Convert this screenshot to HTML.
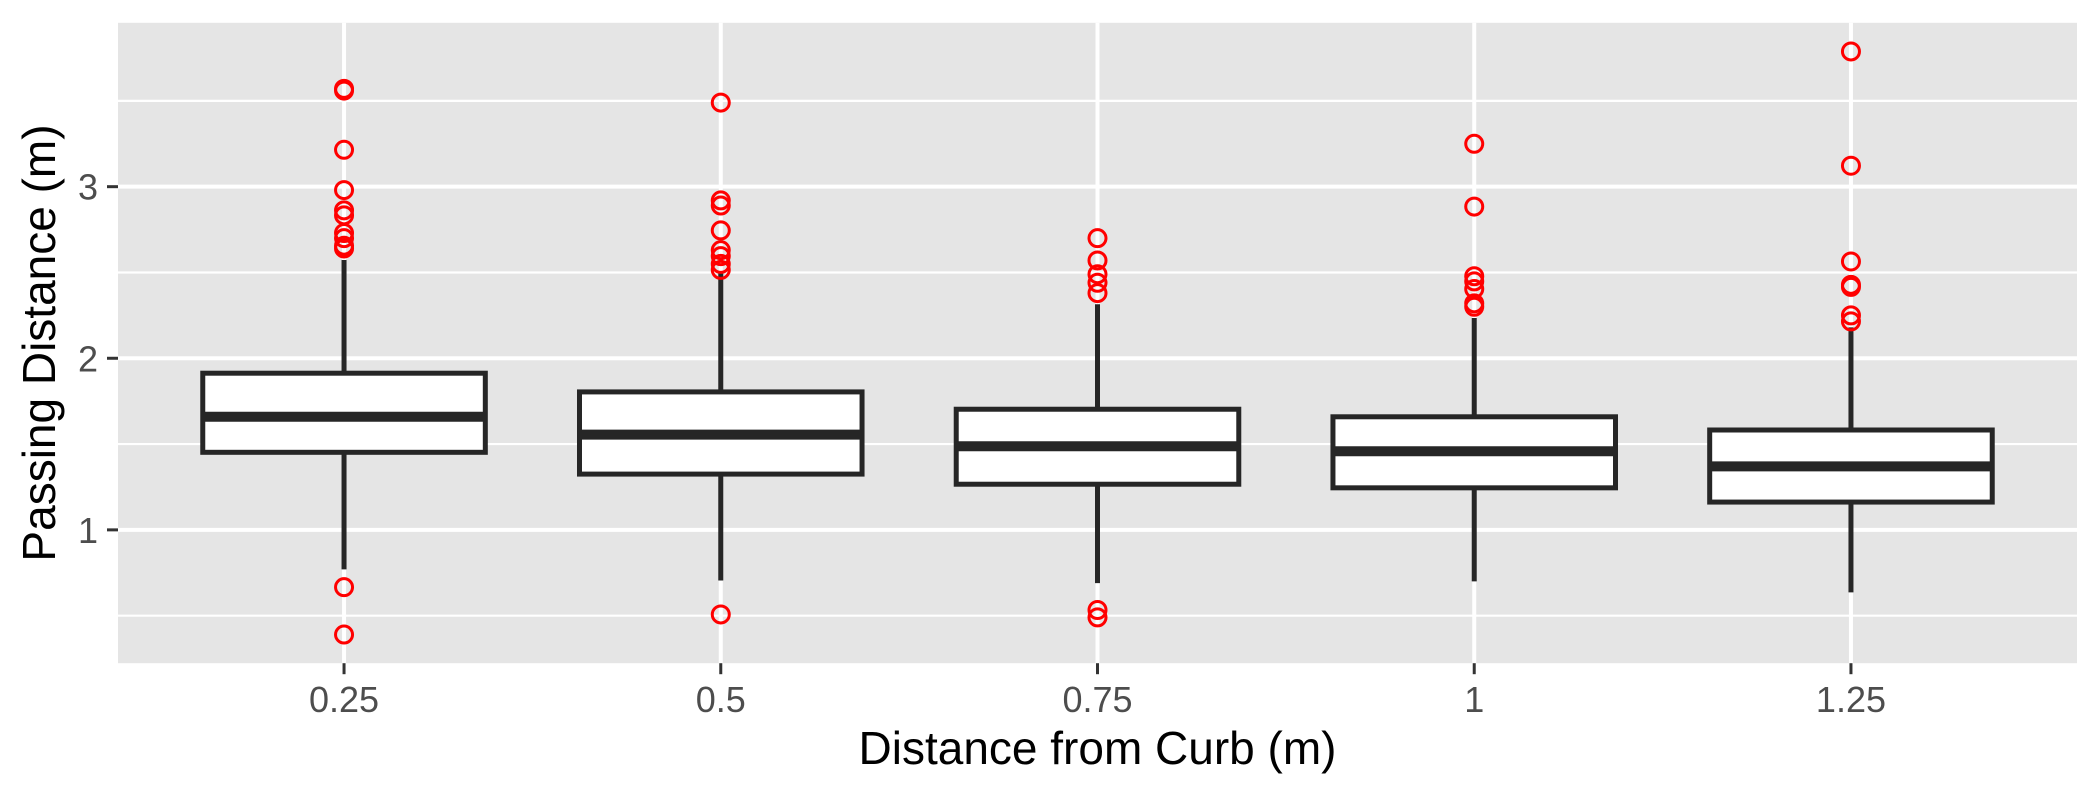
<!DOCTYPE html>
<html><head><meta charset="utf-8"><style>
html,body{margin:0;padding:0;background:#fff;width:2100px;height:795px;overflow:hidden}
svg{display:block;font-family:"Liberation Sans",Arial,sans-serif}
</style></head><body>
<svg id="chart" width="2100" height="795" viewBox="0 0 2100 795" xmlns="http://www.w3.org/2000/svg"></svg>
<script>
const categories = ["0.25","0.5","0.75","1","1.25"];
const q1Values = [1.452,1.325,1.266,1.245,1.162];
const medianValues = [1.659,1.555,1.487,1.458,1.370];
const q3Values = [1.913,1.804,1.703,1.659,1.582];
const lowerWhiskers = [0.77,0.705,0.69,0.70,0.636];
const upperWhiskers = [2.573,2.507,2.315,2.235,2.18];
const outliers = [
  [3.57,3.56,3.215,2.98,2.862,2.833,2.73,2.70,2.656,2.64,0.666,0.39],
  [3.49,2.92,2.89,2.745,2.63,2.595,2.55,2.515,0.507],
  [2.70,2.57,2.49,2.44,2.38,0.533,0.49],
  [3.25,2.884,2.478,2.448,2.404,2.32,2.30],
  [3.788,3.122,2.564,2.428,2.416,2.25,2.215]
];
const yTicks = [1,2,3];
const yMinorTicks = [0.5,1.5,2.5,3.5];
const yDomain = [0.223,3.955];

const svg = document.getElementById('chart');
const NS = 'http://www.w3.org/2000/svg';
const P = {left:118, right:2077, top:22.8, bottom:663.2};
function y(v){ return P.bottom - (v - yDomain[0])/(yDomain[1]-yDomain[0])*(P.bottom-P.top); }
const step = (P.right-P.left)/(categories.length + 0.2);
function x(i){ return P.left + step*(0.6 + i); }
function mk(tag, attrs, parent){ const e=document.createElementNS(NS,tag); for(const k in attrs) e.setAttribute(k,attrs[k]); (parent||svg).appendChild(e); return e; }

const panel = mk('rect',{x:P.left,y:P.top,width:P.right-P.left,height:P.bottom-P.top,fill:'#e5e5e5'});



yMinorTicks.forEach(v=>{
  const l = mk('line',{x1:P.left,x2:P.right,y1:y(v),y2:y(v),stroke:'#fff','stroke-width':2.2});
  
  
});
yTicks.forEach(v=>{
  const l = mk('line',{x1:P.left,x2:P.right,y1:y(v),y2:y(v),stroke:'#fff','stroke-width':4});
  
  
  const t = mk('line',{x1:P.left-11,x2:P.left,y1:y(v),y2:y(v),stroke:'#333','stroke-width':3});
  
  
  const tx = mk('text',{x:P.left-20,y:y(v)+13,'text-anchor':'end','font-size':36,fill:'#4d4d4d'});
  tx.textContent = v;
  
  
});
categories.forEach((c,i)=>{
  const l = mk('line',{x1:x(i),x2:x(i),y1:P.top,y2:P.bottom,stroke:'#fff','stroke-width':4});
  
  
  const t = mk('line',{x1:x(i),x2:x(i),y1:P.bottom,y2:P.bottom+11,stroke:'#333','stroke-width':3});
  
  
  const tx = mk('text',{x:x(i),y:712,'text-anchor':'middle','font-size':36,fill:'#4d4d4d'});
  tx.textContent = c;
  
  
});

const bw = step*0.75;
categories.forEach((c,i)=>{
  const g = mk('g',{});
  
  
  mk('line',{x1:x(i),x2:x(i),y1:y(q3Values[i]),y2:y(upperWhiskers[i]),stroke:'#262626','stroke-width':5},g);
  mk('line',{x1:x(i),x2:x(i),y1:y(q1Values[i]),y2:y(lowerWhiskers[i]),stroke:'#262626','stroke-width':5},g);
  const r = mk('rect',{x:x(i)-bw/2,y:y(q3Values[i]),width:bw,height:y(q1Values[i])-y(q3Values[i]),fill:'#fff',stroke:'#262626','stroke-width':5},g);
  
  const m = mk('line',{x1:x(i)-bw/2,x2:x(i)+bw/2,y1:y(medianValues[i]),y2:y(medianValues[i]),stroke:'#262626','stroke-width':10},g);
  
  outliers[i].forEach(v=>{
    const o = mk('circle',{cx:x(i),cy:y(v),r:8.5,fill:'none',stroke:'#ff0000','stroke-width':3},g);
    
    
  });
});

const xt = mk('text',{x:(P.left+P.right)/2,y:764,'text-anchor':'middle','font-size':46,fill:'#000'});
xt.textContent = 'Distance from Curb (m)';


const yt = mk('text',{x:0,y:0,'text-anchor':'middle','font-size':46,fill:'#000',transform:'translate(55,'+((P.top+P.bottom)/2)+') rotate(-90)'});
yt.textContent = 'Passing Distance (m)';


</script>
</body></html>
